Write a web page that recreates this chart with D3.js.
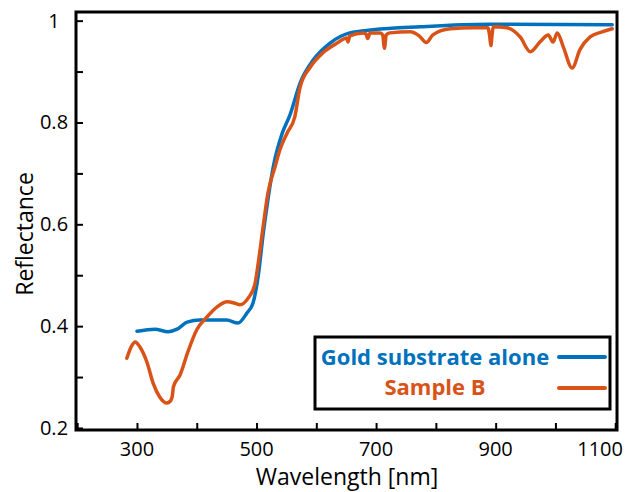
<!DOCTYPE html>
<html>
<head>
<meta charset="utf-8">
<script src="https://cdn.jsdelivr.net/npm/d3@7"></script>
<style>
  body { margin: 0; background: #fff; }
  svg text { font-family: "Open Sans", sans-serif; }
</style>
</head>
<body>
<div id="chart"></div>
<script>
// Data
const goldWl = [300, 330, 352, 367, 384, 405, 450, 469, 484, 494, 503, 511, 519, 528, 543, 556, 573, 595, 623, 656, 695, 774, 886, 1095]
const goldR = [0.390, 0.394, 0.389, 0.394, 0.408, 0.412, 0.412, 0.406, 0.426, 0.445, 0.500, 0.580, 0.648, 0.713, 0.779, 0.815, 0.878, 0.923, 0.956, 0.976, 0.982, 0.988, 0.993, 0.992]

const sampleWl = [283, 292, 297, 305, 317, 327, 338, 350, 356, 359, 361, 372, 385, 400, 417, 434, 451, 464, 472, 486, 497, 503, 511, 519, 531, 539, 551, 564, 573, 590, 611, 635, 651, 653, 656, 678, 683, 686, 690, 707, 711, 714, 717, 723, 757, 772, 784, 795, 824, 862, 887, 890, 892, 894, 896, 919, 941, 958, 974, 988, 996, 1003, 1013, 1028, 1041, 1058, 1078, 1095]
const sampleR = [0.337, 0.363, 0.369, 0.359, 0.328, 0.288, 0.261, 0.249, 0.253, 0.262, 0.281, 0.304, 0.349, 0.393, 0.418, 0.438, 0.448, 0.445, 0.442, 0.455, 0.481, 0.525, 0.595, 0.661, 0.713, 0.746, 0.779, 0.811, 0.870, 0.909, 0.937, 0.956, 0.966, 0.958, 0.970, 0.976, 0.974, 0.965, 0.976, 0.976, 0.972, 0.946, 0.972, 0.976, 0.978, 0.970, 0.957, 0.972, 0.984, 0.986, 0.986, 0.970, 0.951, 0.972, 0.988, 0.986, 0.968, 0.939, 0.958, 0.972, 0.958, 0.976, 0.949, 0.907, 0.943, 0.968, 0.978, 0.984]

const xTicks = [300, 500, 700, 900, 1100]
const xMinor = [200, 400, 600, 800, 1000]
const yTicks = [0.2, 0.4, 0.6, 0.8, 1]
const yMinor = [0.3, 0.5, 0.7, 0.9]

const seriesNames = ['Gold substrate alone', 'Sample B']
const colours = ['#0072BD', '#D95319']

const series = [
  goldWl.map((w, i) => ({ w: w, r: goldR[i] })),
  sampleWl.map((w, i) => ({ w: w, r: sampleR[i] }))
]

// Dimensions
const dimensions = {
  width: 626,
  height: 492,
  left: 76,
  right: 617,
  top: 12,
  bottom: 430
}

const svg = d3.select('#chart')
  .append('svg')
    .attr('width', dimensions.width)
    .attr('height', dimensions.height)

// Scales
const x = d3.scaleLinear()
  .domain([198, 1103])
  .range([dimensions.left, dimensions.right])

const y = d3.scaleLinear()
  .domain([0.196, 1.017])
  .range([dimensions.bottom, dimensions.top])

// Lines
const line = d3.line()
  .x(d => x(d.w))
  .y(d => y(d.r))
  .curve(d3.curveMonotoneX)

svg.selectAll('path.series')
  .data(series)
  .join('path')
  .attr('class', 'series')
  .attr('d', line)
  .attr('fill', 'none')
  .attr('stroke', (d, i) => colours[i])
  .attr('stroke-width', 3.5)
  .attr('stroke-linejoin', 'round')
  .attr('stroke-linecap', 'round')

// Axes (ticks pointing inward)
const xAxis = svg.append('g')
  .attr('transform', `translate(0, ${dimensions.bottom})`)
  .call(d3.axisTop(x).tickValues(xTicks.concat(xMinor)).tickSize(7).tickFormat(''))
xAxis.select('.domain').remove()
xAxis.selectAll('line').attr('stroke', '#000').attr('stroke-width', 2)

const yAxis = svg.append('g')
  .attr('transform', `translate(${dimensions.left}, 0)`)
  .call(d3.axisRight(y).tickValues(yTicks.concat(yMinor)).tickSize(7).tickFormat(''))
yAxis.select('.domain').remove()
yAxis.selectAll('line').attr('stroke', '#000').attr('stroke-width', 2)

// Tick labels
svg.selectAll('text.xlab')
  .data(xTicks)
  .join('text')
  .attr('class', 'xlab')
  .attr('x', d => d === 1100 ? 623 : x(d))
  .attr('y', 456)
  .attr('text-anchor', d => d === 1100 ? 'end' : 'middle')
  .attr('font-size', 20)
  .text(d => d)

svg.selectAll('text.ylab')
  .data(yTicks)
  .join('text')
  .attr('class', 'ylab')
  .attr('x', 54)
  .attr('y', d => y(d) + 7)
  .attr('text-anchor', 'middle')
  .attr('font-size', 20)
  .text(d => d)

// Frame
svg.append('rect')
  .attr('x', dimensions.left)
  .attr('y', dimensions.top)
  .attr('width', dimensions.right - dimensions.left)
  .attr('height', dimensions.bottom - dimensions.top)
  .attr('fill', 'none')
  .attr('stroke', '#000')
  .attr('stroke-width', 3)

// Axis titles
svg.append('text')
  .attr('x', 347)
  .attr('y', 485)
  .attr('text-anchor', 'middle')
  .attr('font-size', 23)
  .text('Wavelength [nm]')

svg.append('text')
  .attr('transform', 'translate(33, 234) rotate(-90)')
  .attr('text-anchor', 'middle')
  .attr('font-size', 23)
  .text('Reflectance')

// Legend
const legend = svg.append('g')
legend.append('rect')
  .attr('x', 315)
  .attr('y', 337)
  .attr('width', 295)
  .attr('height', 72)
  .attr('fill', '#fff')
  .attr('stroke', '#000')
  .attr('stroke-width', 3)

legend.selectAll('text')
  .data(seriesNames)
  .join('text')
  .attr('x', 435)
  .attr('y', (d, i) => 365 + i * 30)
  .attr('text-anchor', 'middle')
  .attr('font-size', 22)
  .attr('font-weight', 'bold')
  .attr('fill', (d, i) => colours[i])
  .text(d => d)

legend.selectAll('line')
  .data(seriesNames)
  .join('line')
  .attr('x1', 559)
  .attr('x2', 605)
  .attr('y1', (d, i) => 357 + i * 31)
  .attr('y2', (d, i) => 357 + i * 31)
  .attr('stroke', (d, i) => colours[i])
  .attr('stroke-width', 4)
  .attr('stroke-linecap', 'round')
</script>
</body>
</html>
